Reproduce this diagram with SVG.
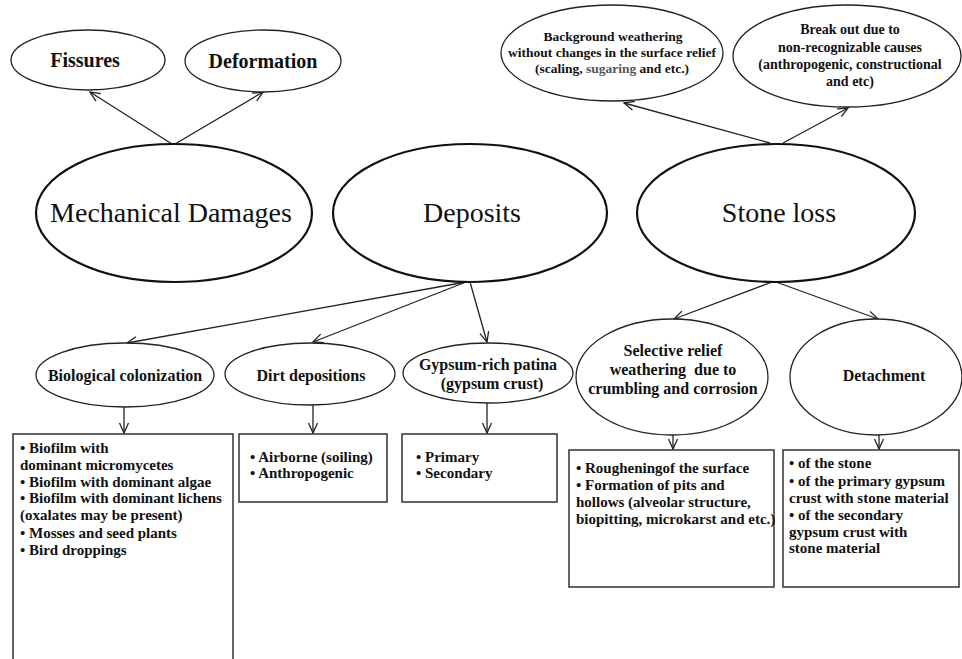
<svg xmlns="http://www.w3.org/2000/svg" width="962" height="659" viewBox="0 0 962 659">
<style>
  .big { fill: #fff; stroke: #111; stroke-width: 2.2; }
  .sm { fill: #fff; stroke: #222; stroke-width: 1.3; }
  .box { fill: #fff; stroke: #333; stroke-width: 1.5; }
  .t { font-family: "Liberation Serif", "Times New Roman", serif; fill: #111; }
  .tb { font-family: "Liberation Serif", "Times New Roman", serif; fill: #111; font-weight: bold; }
  .c { text-anchor: middle; }
  .con line { stroke: #222; stroke-width: 1.3; }
</style>
<defs>
  <marker id="ah" markerUnits="userSpaceOnUse" markerWidth="12" markerHeight="12" viewBox="0 0 12 12" refX="11" refY="6" orient="auto">
    <path d="M1,1.5 L11,6 L1,10.5" fill="none" stroke="#222" stroke-width="1.3"/>
  </marker>
</defs>
<rect width="962" height="659" fill="#fff"/>

<g id="connectors" class="con">
  <line x1="172" y1="144" x2="90" y2="92" marker-end="url(#ah)"/>
  <line x1="175" y1="144" x2="263" y2="92" marker-end="url(#ah)"/>
  <line x1="770" y1="143" x2="624" y2="103" marker-end="url(#ah)"/>
  <line x1="783" y1="143" x2="848" y2="108" marker-end="url(#ah)"/>
  <line x1="466" y1="282" x2="127" y2="343" marker-end="url(#ah)"/>
  <line x1="466" y1="282" x2="313" y2="342" marker-end="url(#ah)"/>
  <line x1="470" y1="282" x2="487" y2="342" marker-end="url(#ah)"/>
  <line x1="772" y1="282" x2="674" y2="319" marker-end="url(#ah)"/>
  <line x1="776" y1="282" x2="878" y2="319" marker-end="url(#ah)"/>
  <line x1="124" y1="406" x2="124" y2="433" marker-end="url(#ah)"/>
  <line x1="313" y1="405" x2="313" y2="433" marker-end="url(#ah)"/>
  <line x1="487" y1="403" x2="487" y2="433" marker-end="url(#ah)"/>
  <line x1="673" y1="435" x2="673" y2="449" marker-end="url(#ah)"/>
  <line x1="879" y1="435" x2="879" y2="449" marker-end="url(#ah)"/>
</g>

<g id="fissures">
  <ellipse class="sm" cx="88" cy="60" rx="77" ry="30"/>
  <text class="tb c" x="85" y="67" font-size="20">Fissures</text>
</g>
<g id="deformation">
  <ellipse class="sm" cx="263" cy="61" rx="78" ry="31"/>
  <text class="tb c" x="263" y="68" font-size="20">Deformation</text>
</g>
<g id="background-weathering">
  <ellipse class="sm" cx="612" cy="53" rx="111" ry="48"/>
  <text class="tb c" x="613" y="41" font-size="13.5">Background weathering</text>
  <text class="tb c" x="612" y="57" font-size="13.5">without changes in the surface relief</text>
  <text class="tb c" x="612" y="73" font-size="13.5">(scaling, <tspan fill="#555">sugaring</tspan> and etc.)</text>
</g>
<g id="break-out">
  <ellipse class="sm" cx="847" cy="56" rx="114" ry="51"/>
  <text class="tb c" x="850" y="34" font-size="14">Break out due to</text>
  <text class="tb c" x="850" y="52" font-size="14">non-recognizable causes</text>
  <text class="tb c" x="850" y="69" font-size="14">(anthropogenic, constructional</text>
  <text class="tb c" x="850" y="86" font-size="14">and etc)</text>
</g>

<g id="mechanical-damages">
  <ellipse class="big" cx="174" cy="213" rx="138" ry="69"/>
  <text class="t c" x="171" y="222" font-size="28">Mechanical Damages</text>
</g>
<g id="deposits">
  <ellipse class="big" cx="470" cy="213" rx="137" ry="69"/>
  <text class="t c" x="472" y="222" font-size="28">Deposits</text>
</g>
<g id="stone-loss">
  <ellipse class="big" cx="776" cy="213" rx="139" ry="69"/>
  <text class="t c" x="779" y="222" font-size="28">Stone loss</text>
</g>

<g id="biological-colonization">
  <ellipse class="sm" cx="125" cy="375" rx="89" ry="32"/>
  <text class="tb c" x="125" y="381" font-size="16">Biological colonization</text>
</g>
<g id="dirt-depositions">
  <ellipse class="sm" cx="310" cy="374" rx="85" ry="31"/>
  <text class="tb c" x="311" y="381" font-size="16">Dirt depositions</text>
</g>
<g id="gypsum-patina">
  <ellipse class="sm" cx="488" cy="373" rx="85" ry="30"/>
  <text class="tb c" x="488" y="370" font-size="16">Gypsum-rich patina</text>
  <text class="tb c" x="492" y="389" font-size="16">(gypsum crust)</text>
</g>
<g id="selective-relief">
  <ellipse class="sm" cx="672" cy="377" rx="96" ry="58"/>
  <text class="tb c" x="673" y="356" font-size="16">Selective relief</text>
  <text class="tb c" x="673" y="375" font-size="16" xml:space="preserve">weathering  due to</text>
  <text class="tb c" x="673" y="394" font-size="16">crumbling and corrosion</text>
</g>
<g id="detachment">
  <ellipse class="sm" cx="876" cy="377" rx="86" ry="58"/>
  <text class="tb c" x="884" y="381" font-size="16">Detachment</text>
</g>

<g id="biological-box">
  <rect class="box" x="13" y="434" width="220" height="240"/>
  <text class="tb" x="20" y="453" font-size="15">• Biofilm with</text>
  <text class="tb" x="20" y="470" font-size="15">dominant micromycetes</text>
  <text class="tb" x="20" y="487" font-size="15">• Biofilm with dominant algae</text>
  <text class="tb" x="20" y="503" font-size="15">• Biofilm with dominant lichens</text>
  <text class="tb" x="20" y="520" font-size="15">(oxalates may be present)</text>
  <text class="tb" x="20" y="538" font-size="15">• Mosses and seed plants</text>
  <text class="tb" x="20" y="555" font-size="15">• Bird droppings</text>
</g>
<g id="dirt-box">
  <rect class="box" x="239" y="434" width="148" height="68"/>
  <text class="tb" x="250" y="462" font-size="15">• Airborne (soiling)</text>
  <text class="tb" x="250" y="478" font-size="15">• Anthropogenic</text>
</g>
<g id="gypsum-box">
  <rect class="box" x="402" y="434" width="155" height="68"/>
  <text class="tb" x="416" y="462" font-size="15">• Primary</text>
  <text class="tb" x="416" y="478" font-size="15">• Secondary</text>
</g>
<g id="selective-box">
  <rect class="box" x="569" y="450" width="205" height="137"/>
  <text class="tb" x="576" y="473" font-size="15">• Rougheningof the surface</text>
  <text class="tb" x="576" y="490" font-size="15">• Formation of pits and</text>
  <text class="tb" x="576" y="507" font-size="15">hollows (alveolar structure,</text>
  <text class="tb" x="576" y="524" font-size="15">biopitting, microkarst and etc.)</text>
</g>
<g id="detachment-box">
  <rect class="box" x="783" y="450" width="176" height="137"/>
  <text class="tb" x="789" y="468" font-size="15">• of the stone</text>
  <text class="tb" x="789" y="486" font-size="15">• of the primary gypsum</text>
  <text class="tb" x="789" y="503" font-size="15">crust with stone material</text>
  <text class="tb" x="789" y="520" font-size="15">• of the secondary</text>
  <text class="tb" x="789" y="537" font-size="15">gypsum crust with</text>
  <text class="tb" x="789" y="553" font-size="15">stone material</text>
</g>
</svg>
